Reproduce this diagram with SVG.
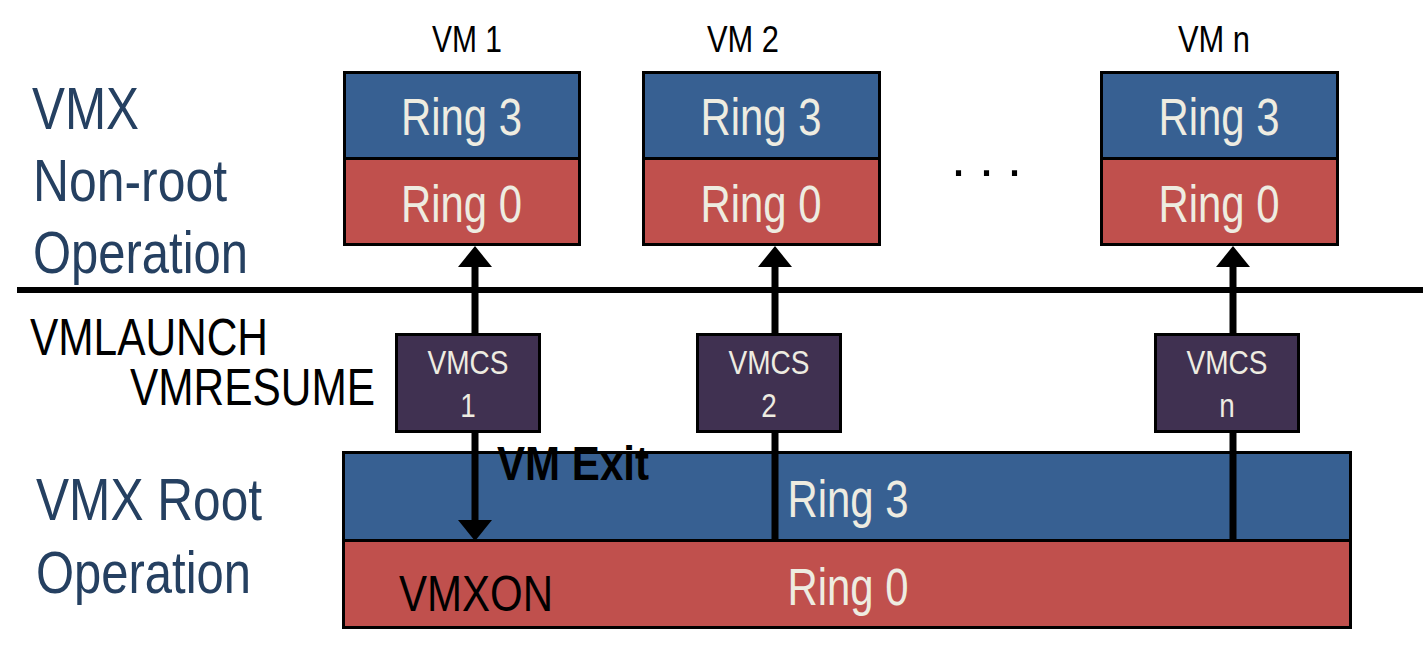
<svg xmlns="http://www.w3.org/2000/svg" width="1423" height="659" viewBox="0 0 1423 659">
<style>
text { font-family: "Liberation Sans", Arial, sans-serif; }
.blue { fill: #376092; stroke: #000; stroke-width: 3; }
.red { fill: #c0504d; stroke: #000; stroke-width: 3; }
.vmcs { fill: #403151; stroke: #000; stroke-width: 3; }
.ring { fill: #eeece1; font-size: 51px; text-anchor: middle; }
.vmcst { fill: #eeece1; font-size: 34px; text-anchor: middle; }
.side { fill: #254061; font-size: 60px; }
.blk { fill: #000; }
.conn { stroke: #000; stroke-width: 7; fill: none; }
</style>
<defs>
<marker id="ah" markerUnits="userSpaceOnUse" markerWidth="21" markerHeight="34" viewBox="0 0 21 34" refX="0" refY="17" orient="auto">
<path d="M0,0 L21,17 L0,34 Z" fill="#000"/>
</marker>
</defs>

<g id="labels">
<text class="side" x="32" y="129" textLength="107" lengthAdjust="spacingAndGlyphs">VMX</text>
<text class="side" x="33" y="201" textLength="194" lengthAdjust="spacingAndGlyphs">Non-root</text>
<text class="side" x="33" y="273" textLength="215" lengthAdjust="spacingAndGlyphs">Operation</text>
<text class="side" x="36" y="520" textLength="226" lengthAdjust="spacingAndGlyphs">VMX Root</text>
<text class="side" x="36" y="593" textLength="215" lengthAdjust="spacingAndGlyphs">Operation</text>
<text class="blk" x="30" y="355" font-size="51" textLength="238" lengthAdjust="spacingAndGlyphs">VMLAUNCH</text>
<text class="blk" x="130" y="405" font-size="51" textLength="245" lengthAdjust="spacingAndGlyphs">VMRESUME</text>
<text class="blk" x="432" y="52" font-size="37" textLength="70" lengthAdjust="spacingAndGlyphs">VM 1</text>
<text class="blk" x="707" y="52" font-size="37" textLength="72" lengthAdjust="spacingAndGlyphs">VM 2</text>
<text class="blk" x="1178" y="52" font-size="37" textLength="72" lengthAdjust="spacingAndGlyphs">VM n</text>
<text class="blk" x="951 965 979 993 1007" y="176" font-size="54">. . .</text>
</g>

<line x1="17" y1="290" x2="1423" y2="290" stroke="#000" stroke-width="6"/>

<g id="root">
<rect class="blue" x="343.5" y="452.5" width="1007" height="88"/>
<rect class="red" x="343.5" y="540.5" width="1007" height="87"/>
<text class="ring" x="848" y="517" textLength="121" lengthAdjust="spacingAndGlyphs">Ring 3</text>
<text class="ring" x="848" y="605" textLength="121" lengthAdjust="spacingAndGlyphs">Ring 0</text>
<text class="blk" x="399" y="611" font-size="50" textLength="154" lengthAdjust="spacingAndGlyphs">VMXON</text>
</g>

<g id="vm1">
<rect class="blue" x="344.5" y="72.5" width="235" height="86"/>
<rect class="red" x="344.5" y="158.5" width="235" height="86"/>
<text class="ring" x="461.5" y="135" textLength="121" lengthAdjust="spacingAndGlyphs">Ring 3</text>
<text class="ring" x="461.5" y="222" textLength="121" lengthAdjust="spacingAndGlyphs">Ring 0</text>
</g>
<g id="vm2">
<rect class="blue" x="643.5" y="72.5" width="236" height="86"/>
<rect class="red" x="643.5" y="158.5" width="236" height="86"/>
<text class="ring" x="761" y="135" textLength="121" lengthAdjust="spacingAndGlyphs">Ring 3</text>
<text class="ring" x="761" y="222" textLength="121" lengthAdjust="spacingAndGlyphs">Ring 0</text>
</g>
<g id="vmn">
<rect class="blue" x="1101.5" y="72.5" width="236" height="86"/>
<rect class="red" x="1101.5" y="158.5" width="236" height="86"/>
<text class="ring" x="1219" y="135" textLength="121" lengthAdjust="spacingAndGlyphs">Ring 3</text>
<text class="ring" x="1219" y="222" textLength="121" lengthAdjust="spacingAndGlyphs">Ring 0</text>
</g>

<g id="connectors">
<line class="conn" x1="475" y1="334" x2="475" y2="267" marker-end="url(#ah)"/>
<line class="conn" x1="475" y1="432" x2="475" y2="520" marker-end="url(#ah)"/>
<line class="conn" x1="775" y1="334" x2="775" y2="267" marker-end="url(#ah)"/>
<line class="conn" x1="775" y1="432" x2="775" y2="540"/>
<line class="conn" x1="1233" y1="334" x2="1233" y2="267" marker-end="url(#ah)"/>
<line class="conn" x1="1233" y1="432" x2="1233" y2="540"/>
</g>

<g id="vmcs1">
<rect class="vmcs" x="396.5" y="334.5" width="143" height="97"/>
<text class="vmcst" x="468" y="374" textLength="81" lengthAdjust="spacingAndGlyphs">VMCS</text>
<text class="vmcst" x="468" y="417" textLength="15.5" lengthAdjust="spacingAndGlyphs">1</text>
</g>
<g id="vmcs2">
<rect class="vmcs" x="697.5" y="334.5" width="143" height="97"/>
<text class="vmcst" x="769" y="374" textLength="81" lengthAdjust="spacingAndGlyphs">VMCS</text>
<text class="vmcst" x="769" y="417" textLength="15.5" lengthAdjust="spacingAndGlyphs">2</text>
</g>
<g id="vmcsn">
<rect class="vmcs" x="1155.5" y="334.5" width="143" height="97"/>
<text class="vmcst" x="1227" y="374" textLength="81" lengthAdjust="spacingAndGlyphs">VMCS</text>
<text class="vmcst" x="1227" y="417" textLength="15.5" lengthAdjust="spacingAndGlyphs">n</text>
</g>

<text class="blk" x="497" y="480" font-size="49" font-weight="bold" textLength="152" lengthAdjust="spacingAndGlyphs">VM Exit</text>
</svg>
